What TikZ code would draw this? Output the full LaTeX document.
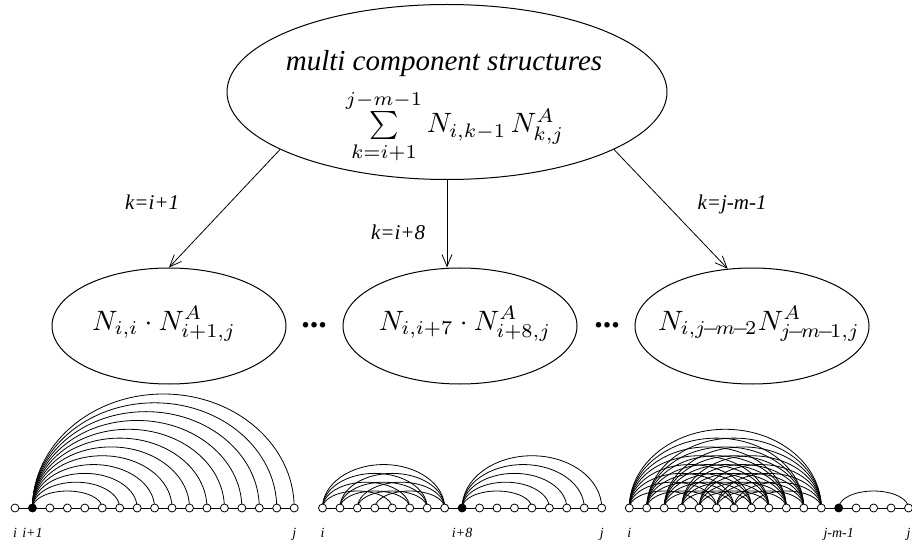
\documentclass[tikz,border=0pt]{standalone}
\usepackage[no-math]{fontspec}
\setmainfont{Liberation Serif}
\usetikzlibrary{arrows.meta,positioning,calc,shapes.geometric,backgrounds}
\tikzset{
  oval/.style    = {draw, ellipse, line width=1pt, inner sep=0pt, minimum width=234pt,
                    minimum height=116pt},
  bigoval/.style = {oval, minimum width=440pt, minimum height=175pt},
  formula/.style = {anchor=base, inner sep=0pt},
  arr/.style     = {-{Straight Barb[length=12pt,width=10pt]}, line width=0.8pt},
  cond/.style    = {font=\fontsize{21}{25}\selectfont\itshape, anchor=base, inner sep=0pt},
  site/.style    = {circle, draw, line width=0.8pt, minimum size=8pt, inner sep=0pt},
  bond/.style    = {line width=0.8pt},
  poslbl/.style  = {font=\fontsize{14}{16}\selectfont\itshape, anchor=base, inner sep=0pt},
  gap/.style     = {font=\fontsize{34}{40}\selectfont\bfseries, inner sep=0pt},
}
\newcommand\bigmath[1]{\scalebox{2.8}{$#1$}}
\newcommand\sm{\mkern-3mu-\mkern-3mu}% tight minus in indices
% base pair arc between site #2 and site #3 of strand #1
\newcommand\bp[3]{\draw[bond] (#1#2.center) arc[start angle=180, end angle=0,
  x radius={8.725*(#3-#2)*1pt}, y radius={(8.82*(#3-#2)-18.3)*1pt}];}
\begin{document}
\begin{tikzpicture}[x=1pt,y=1pt]
  \useasboundingbox (0,0) rectangle (912,544);
  % top: decomposition
  \node[bigoval] (top) at (447,452) {};
  \node[font=\fontsize{29}{34}\selectfont\itshape, anchor=base] (title) at (444,473) {multi component structures};
  \node[formula] (recur) at (455,411)
    {\bigmath{\sum\limits_{k=i+1}^{j-m-1} N_{i,k-1}\,N^A_{k,j}}};
  % cases
  \node[oval] (e1) at (169,218) {};
  \node[oval] (e2) at (460,218) {};
  \node[oval] (e3) at (752,218) {};
  \node[formula] (t1) at (164,214) {\bigmath{N_{i,i}\cdot N^A_{i+1,j}}};
  \node[formula] (t2) at (465,214) {\bigmath{N_{i,i+7}\cdot N^A_{i+8,j}}};
  \node[formula] (t3) at (759,214) {\bigmath{N_{i,j\sm m\sm 2}N^A_{j\sm m\sm 1,j}}};
  \node[gap] (gap1) at (314,219) {...};
  \node[gap] (gap2) at (607,219) {...};
  \draw[arr] (top.199.4) -- (e1.north);
  \draw[arr] (top.south) -- (top.south |- e2.north);
  \draw[arr] (top.341.4) -- (e3.113);
  \node[cond] (c1) at (152,334) {k=i+1};
  \node[cond] (c8) at (398,304) {k=i+8};
  \node[cond] (cm) at (732,334) {k=j-m-1};
  % strands, filled site = paired base
  \foreach \s/\x/\f in {a/15/1, b/322.5/8, c/629.3/12} {
    \foreach \k in {0,...,16} {
      \ifnum\k=\f \def\fc{black}\else \def\fc{white}\fi
      \node[site, fill=\fc] (\s\k) at ({\x+17.45*\k},36) {};
    }
  }
  \foreach \n/\t in {a0/i, a1/i+1, a16/j, b0/i, b8/i+8, b16/j, c0/i, c12/j-m-1, c16/j}
    \node[poslbl] (l\n) at ($(\n.center)+(0,-29)$) {\t};
  \begin{scope}[on background layer]
    \foreach \s in {a,b,c} \draw[bond] (\s0.center) -- (\s16.center);
    \foreach \q in {5,...,16} {\bp{a}{1}{\q}}
    \foreach \p in {0,...,3} {
      \pgfmathtruncatemacro\qs{\p+4}
      \foreach \q in {\qs,...,7} {\bp{b}{\p}{\q}}
    }
    \foreach \q in {12,...,16} {\bp{b}{8}{\q}}
    \foreach \p in {0,...,7} {
      \pgfmathtruncatemacro\qs{\p+4}
      \foreach \q in {\qs,...,11} {\bp{c}{\p}{\q}}
    }
    \bp{c}{12}{16}
  \end{scope}
\end{tikzpicture}
\end{document}
